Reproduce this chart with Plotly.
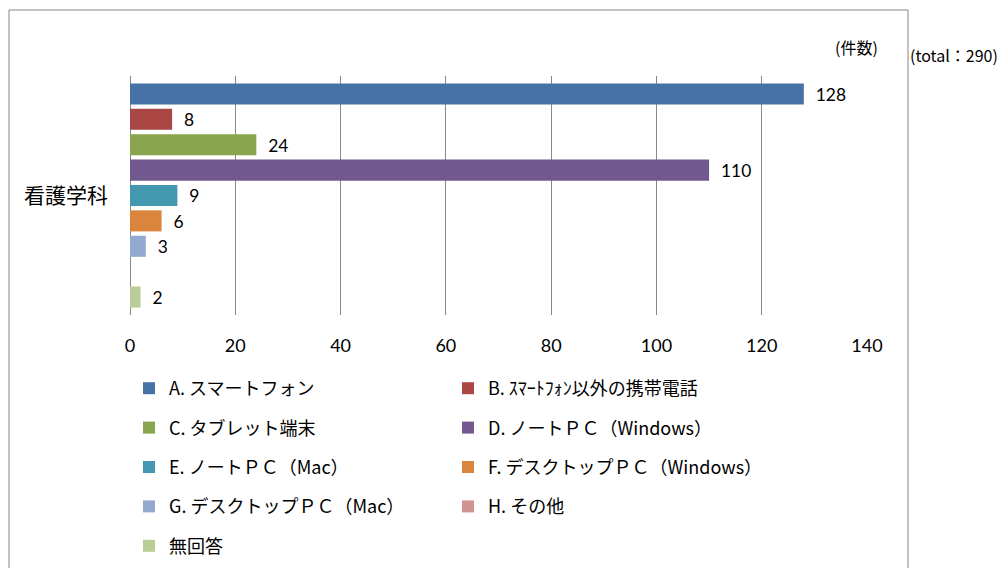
import plotly.graph_objects as go

category = ["看護学科"]
series_names = [
    "A. スマートフォン",
    "B. ｽﾏｰﾄﾌｫﾝ以外の携帯電話",
    "C. タブレット端末",
    "D. ノートＰＣ（Windows）",
    "E. ノートＰＣ（Mac）",
    "F. デスクトップＰＣ（Windows）",
    "G. デスクトップＰＣ（Mac）",
    "H. その他",
    "無回答",
]
series_values = [128, 8, 24, 110, 9, 6, 3, 0, 2]
series_colors = ["#4672A7", "#AA4643", "#89A54E", "#71588F", "#4198AF",
                 "#DB843D", "#93A9CF", "#D19392", "#B9CD96"]
x_ticks = [0, 20, 40, 60, 80, 100, 120, 140]

JP = "Noto Sans CJK JP"
NUM = "Lato, Liberation Sans, sans-serif"

# page body has an 8px margin; work in reference-pixel coordinates
OFF = 8
FW, FH = 1008 - OFF, 568 - OFF
L, R, T, B = 130 - OFF, 867 - OFF, 76 - OFF, 315 - OFF
W, H = R - L, B - T
px = lambda x: (x - OFF - L) / W
py = lambda y: (B - (y - OFF)) / H

fig = go.Figure()
for i, (name, val, col) in enumerate(zip(series_names, series_values, series_colors)):
    fig.add_trace(go.Bar(
        y=category, x=[val], name=name, orientation="h",
        marker=dict(color=col, line=dict(width=0)),
        text=["  " + str(val) if val else ""],
        textposition="outside", cliponaxis=False,
        textfont=dict(family=NUM, size=19, color="#000000"),
        legend="legend" if i % 2 == 0 else "legend2",
        legendgroup=f"g{i}",
    ))

legend_common = dict(
    orientation="v", yanchor="top", xanchor="left",
    font=dict(family=JP, size=18, color="#000000"),
    tracegroupgap=13, bgcolor="rgba(0,0,0,0)", borderwidth=0,
    itemwidth=30, traceorder="grouped",
)

fig.update_layout(
    width=FW, height=FH,
    margin=dict(l=L, r=FW - R, t=T, b=FH - B, autoexpand=False),
    paper_bgcolor="#FFFFFF", plot_bgcolor="#FFFFFF",
    barmode="group", bargap=0.044, bargroupgap=0.17,
    showlegend=True,
    legend=dict(x=px(129), y=py(370), **legend_common),
    legend2=dict(x=px(448), y=py(370), **legend_common),
    xaxis=dict(
        range=[0, 140], tickvals=x_ticks, ticktext=[str(t) for t in x_ticks],
        showgrid=True, gridcolor="#888888", gridwidth=1,
        zeroline=True, zerolinecolor="#888888", zerolinewidth=1,
        showline=False, ticks="", ticklabelstandoff=18,
        tickfont=dict(family=NUM, size=18, color="#000000"),
        fixedrange=True,
    ),
    yaxis=dict(
        autorange="reversed", showgrid=False, zeroline=False, showline=False,
        ticks="", ticklabelstandoff=21,
        tickfont=dict(family=JP, size=21, color="#000000"),
        fixedrange=True,
    ),
    shapes=[dict(
        type="rect", xref="paper", yref="paper",
        x0=px(9), x1=px(908), y0=py(10), y1=py(600),
        line=dict(color="#868686", width=1), fillcolor="rgba(0,0,0,0)",
        layer="below",
    )],
    annotations=[
        dict(text="(件数)", xref="paper", yref="paper", x=px(856), y=py(47),
             xanchor="center", yanchor="middle", showarrow=False,
             font=dict(family=JP, size=16, color="#000000")),
        dict(text="(total：290)", xref="paper", yref="paper", x=px(908), y=py(55),
             xanchor="left", yanchor="middle", showarrow=False,
             font=dict(family=JP, size=16, color="#000000")),
    ],
)

fig.write_html("out.html")
